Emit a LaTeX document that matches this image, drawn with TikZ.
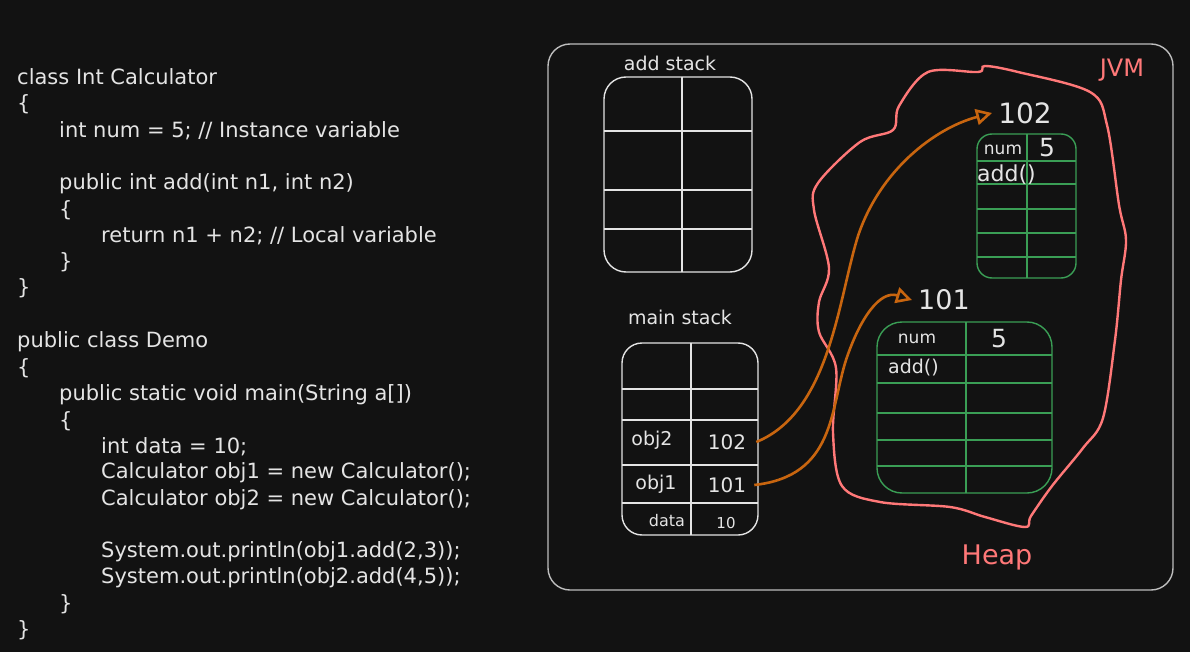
\documentclass[tikz,border=0pt]{standalone}
\usepackage{fontspec}
\newfontfamily\handfont{DejaVu Sans}
\usetikzlibrary{arrows.meta}

\definecolor{bgdark}{HTML}{121212}
\definecolor{chalk}{HTML}{E4E4E4}
\definecolor{framegray}{HTML}{BDBDBD}
\definecolor{heappink}{HTML}{FF7878}
\definecolor{objgreen}{HTML}{3A9E55}
\definecolor{refhint}{HTML}{C8650F}

\tikzset{
  code/.style={anchor=west, inner sep=0pt, text=chalk, font=\handfont\fontsize{21}{25}\selectfont},
  lbl/.style={inner sep=0pt, text=chalk, font=\handfont\fontsize{#1}{#1}\selectfont},
  lbl/.default=19,
  gridline/.style={draw=chalk, line width=1.4pt},
  objline/.style={draw=objgreen, line width=1.4pt},
  heapline/.style={draw=heappink, line width=2.4pt},
  refarrow/.style={draw=refhint, line width=2.6pt, -{Triangle[open,length=16pt,width=16pt,line width=2.6pt]}},
}

\begin{document}
\begin{tikzpicture}[x=1pt,y=-1pt]
\fill[bgdark] (0,0) rectangle (1190,652);
\useasboundingbox (0,0) rectangle (1190,652);

% source code
\node[code] (c1) at (17,77) {class Int Calculator};
\node[code] (c2) at (17,104) {\{};
\node[code] (c3) at (59,131) {int num = 5; // Instance variable};
\node[code] (c4) at (59,184) {public int add(int n1, int n2)};
\node[code] (c5) at (59,210) {\{};
\node[code] (c6) at (101,236) {return n1 + n2; // Local variable};
\node[code] (c7) at (59,262) {\}};
\node[code] (c8) at (17,288) {\}};
\node[code] (c9) at (17,342) {public class Demo};
\node[code] (c10) at (17,368) {\{};
\node[code] (c11) at (59,395) {public static void main(String a[])};
\node[code] (c12) at (59,421) {\{};
\node[code] (c13) at (101,447) {int data = 10;};
\node[code] (c14) at (101,473) {Calculator obj1 = new Calculator();};
\node[code] (c15) at (101,500) {Calculator obj2 = new Calculator();};
\node[code] (c16) at (101,552) {System.out.println(obj1.add(2,3));};
\node[code] (c17) at (101,578) {System.out.println(obj2.add(4,5));};
\node[code] (c18) at (59,604) {\}};
\node[code] (c19) at (17,630) {\}};

% JVM frame
\draw[framegray, line width=1.4pt, rounded corners=22] (548,44) rectangle (1173,590);
\node[lbl=24, text=heappink] (jvm) at (1122,70) {JVM};

% add stack
\node[lbl] (addname) at (670,63) {add stack};
\draw[gridline, rounded corners=22] (604,77) rectangle (752,272);
\draw[gridline] (682,77) -- (682,272);
\draw[gridline] (604,131) -- (752,131);
\draw[gridline] (604,190) -- (752,190);
\draw[gridline] (604,229) -- (752,229);

% main stack
\node[lbl] (mainname) at (680,317) {main stack};
\draw[gridline, rounded corners=20] (622,343) rectangle (758,535);
\draw[gridline] (691,343) -- (691,535);
\draw[gridline] (622,389) -- (758,389);
\draw[gridline] (622,420) -- (758,420);
\draw[gridline] (622,465) -- (758,465);
\draw[gridline] (622,503) -- (758,503);
\node[lbl=19] (k2) at (652,440) {obj2};
\node[lbl=20] (v102) at (727,442) {102};
\node[lbl=19] (k1) at (656,484) {obj1};
\node[lbl=20] (v101) at (727,485) {101};
\node[lbl=16] (kd) at (667,521) {data};
\node[lbl=15] (vd) at (726,523) {10};

% heap
\draw[heapline] plot[smooth cycle, tension=0.55] coordinates {
  (860,142) (818,183) (814,210) (829,268) (819,302) (819,332) (836,368)
  (833,433) (842,486) (880,502) (950,507) (985,517) (1025,527) (1031,516)
  (1052,486) (1083,448) (1103,418) (1115,340) (1121,280) (1126,240)
  (1119,205) (1107,125) (1090,92) (1018,72) (985,66) (978,72) (928,72)
  (899,106) (893,130)};
\node[lbl=27, text=heappink] (heap) at (997,557) {Heap};

% object 102
\node[lbl=28] (h102) at (1025,113) {102};
\draw[objline, rounded corners=15] (977,134) rectangle (1076,278);
\draw[objline] (1027,134) -- (1027,278);
\draw[objline] (977,161) -- (1076,161);
\draw[objline] (977,184) -- (1076,184);
\draw[objline] (977,209) -- (1076,209);
\draw[objline] (977,233) -- (1076,233);
\draw[objline] (977,257) -- (1076,257);
\node[lbl=17] (n102) at (1003,150) {num};
\node[lbl=25] (f102) at (1047,148) {5};
\node[lbl=22, anchor=west] (m102) at (977,175) {add()};

% object 101
\node[lbl=27] (h101) at (944,300) {101};
\draw[objline, rounded corners=25] (877,322) rectangle (1052,493);
\draw[objline] (966,322) -- (966,493);
\draw[objline] (877,355) -- (1052,355);
\draw[objline] (877,383) -- (1052,383);
\draw[objline] (877,413) -- (1052,413);
\draw[objline] (877,440) -- (1052,440);
\draw[objline] (877,466) -- (1052,466);
\node[lbl=17] (n101) at (917,339) {num};
\node[lbl=25] (f101) at (999,339) {5};
\node[lbl=19, anchor=west] (m101) at (888,368) {add()};

% references
\coordinate (bend2) at (858,236);
\coordinate (bend1) at (846,360);
\draw[refarrow] ([xshift=10pt]v102.east) .. controls (830,412) and (838,300) .. (bend2)
  .. controls (880,170) and (935,128) .. ([xshift=-6pt]h102.west);
\draw[refarrow] ([xshift=8pt]v101.east) .. controls (835,476) and (830,410) .. (bend1)
  .. controls (860,318) and (880,290) .. ([xshift=-6pt]h101.west);
\end{tikzpicture}
\end{document}
